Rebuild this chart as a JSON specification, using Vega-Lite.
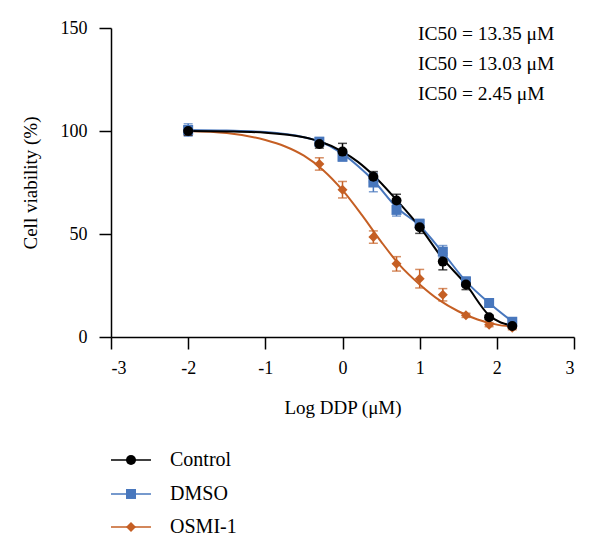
{
  "$schema": "https://vega.github.io/schema/vega-lite/v6.json",
  "width": 463,
  "height": 309,
  "autosize": {"type": "none"},
  "padding": {"left": 111, "top": 28, "right": 26, "bottom": 217},
  "background": "white",
  "config": {
    "view": {"stroke": null},
    "font": "Liberation Serif",
    "axis": {
      "grid": false,
      "domainColor": "#000000",
      "domainWidth": 1.5,
      "tickColor": "#000000",
      "tickWidth": 1.5,
      "tickSize": 12,
      "labelFont": "Liberation Serif",
      "labelFontSize": 18,
      "labelColor": "#000000",
      "titleFont": "Liberation Serif",
      "titleFontSize": 19,
      "titleFontWeight": "normal",
      "titleColor": "#000000"
    }
  },
  "datasets": {
    "fit": [
      {"group": "OSMI-1", "logDose": -2, "viability": 100},
      {"group": "OSMI-1", "logDose": -1.5, "viability": 99},
      {"group": "OSMI-1", "logDose": -1, "viability": 95.6},
      {"group": "OSMI-1", "logDose": -0.75, "viability": 92.6},
      {"group": "OSMI-1", "logDose": -0.5, "viability": 88},
      {"group": "OSMI-1", "logDose": -0.25, "viability": 81},
      {"group": "OSMI-1", "logDose": 0, "viability": 71.3},
      {"group": "OSMI-1", "logDose": 0.25, "viability": 59.3},
      {"group": "OSMI-1", "logDose": 0.5, "viability": 46.3},
      {"group": "OSMI-1", "logDose": 0.75, "viability": 34.5},
      {"group": "OSMI-1", "logDose": 1, "viability": 25.5},
      {"group": "OSMI-1", "logDose": 1.25, "viability": 18},
      {"group": "OSMI-1", "logDose": 1.5, "viability": 12.5},
      {"group": "OSMI-1", "logDose": 1.75, "viability": 8.5},
      {"group": "OSMI-1", "logDose": 2, "viability": 6},
      {"group": "OSMI-1", "logDose": 2.2, "viability": 5},
      {"group": "DMSO", "logDose": -2, "viability": 100.5},
      {"group": "DMSO", "logDose": -1.5, "viability": 100.2},
      {"group": "DMSO", "logDose": -1, "viability": 99.5},
      {"group": "DMSO", "logDose": -0.5, "viability": 97},
      {"group": "DMSO", "logDose": -0.3, "viability": 95},
      {"group": "DMSO", "logDose": 0, "viability": 89},
      {"group": "DMSO", "logDose": 0.2, "viability": 83},
      {"group": "DMSO", "logDose": 0.4, "viability": 76},
      {"group": "DMSO", "logDose": 0.7, "viability": 63},
      {"group": "DMSO", "logDose": 1, "viability": 54},
      {"group": "DMSO", "logDose": 1.3, "viability": 41},
      {"group": "DMSO", "logDose": 1.6, "viability": 27},
      {"group": "DMSO", "logDose": 1.9, "viability": 16.5},
      {"group": "DMSO", "logDose": 2.2, "viability": 7.5},
      {"group": "Control", "logDose": -2, "viability": 100},
      {"group": "Control", "logDose": -1.5, "viability": 99.8},
      {"group": "Control", "logDose": -1, "viability": 99.2},
      {"group": "Control", "logDose": -0.5, "viability": 97},
      {"group": "Control", "logDose": -0.3, "viability": 95},
      {"group": "Control", "logDose": 0, "viability": 90},
      {"group": "Control", "logDose": 0.2, "viability": 85},
      {"group": "Control", "logDose": 0.4, "viability": 78.5},
      {"group": "Control", "logDose": 0.7, "viability": 66.5},
      {"group": "Control", "logDose": 1, "viability": 53.5},
      {"group": "Control", "logDose": 1.3, "viability": 38},
      {"group": "Control", "logDose": 1.6, "viability": 25.5},
      {"group": "Control", "logDose": 1.9, "viability": 10.5},
      {"group": "Control", "logDose": 2.2, "viability": 5.5}
    ],
    "obs": [
      {"group": "OSMI-1", "logDose": -2, "viability": 100, "sd": 2},
      {"group": "OSMI-1", "logDose": -0.3, "viability": 84, "sd": 3},
      {"group": "OSMI-1", "logDose": 0, "viability": 71.5, "sd": 4},
      {"group": "OSMI-1", "logDose": 0.4, "viability": 48.5, "sd": 3},
      {"group": "OSMI-1", "logDose": 0.7, "viability": 35.5, "sd": 3.5},
      {"group": "OSMI-1", "logDose": 1, "viability": 28.3, "sd": 4.5},
      {"group": "OSMI-1", "logDose": 1.3, "viability": 20.5, "sd": 3},
      {"group": "OSMI-1", "logDose": 1.6, "viability": 10.5, "sd": 1},
      {"group": "OSMI-1", "logDose": 1.9, "viability": 6, "sd": 1},
      {"group": "OSMI-1", "logDose": 2.2, "viability": 4.5, "sd": 1},
      {"group": "DMSO", "logDose": -2, "viability": 100.5, "sd": 3},
      {"group": "DMSO", "logDose": -0.3, "viability": 94.8, "sd": 2},
      {"group": "DMSO", "logDose": 0, "viability": 87.5, "sd": 2},
      {"group": "DMSO", "logDose": 0.4, "viability": 75, "sd": 4.5},
      {"group": "DMSO", "logDose": 0.7, "viability": 61.7, "sd": 3},
      {"group": "DMSO", "logDose": 1, "viability": 55, "sd": 2},
      {"group": "DMSO", "logDose": 1.3, "viability": 41.4, "sd": 3},
      {"group": "DMSO", "logDose": 1.6, "viability": 27, "sd": 2},
      {"group": "DMSO", "logDose": 1.9, "viability": 16.5, "sd": 1.5},
      {"group": "DMSO", "logDose": 2.2, "viability": 7.4, "sd": 1},
      {"group": "Control", "logDose": -2, "viability": 100, "sd": 2},
      {"group": "Control", "logDose": -0.3, "viability": 93.7, "sd": 2},
      {"group": "Control", "logDose": 0, "viability": 90, "sd": 4},
      {"group": "Control", "logDose": 0.4, "viability": 77.8, "sd": 2.5},
      {"group": "Control", "logDose": 0.7, "viability": 66.3, "sd": 3},
      {"group": "Control", "logDose": 1, "viability": 53.3, "sd": 3},
      {"group": "Control", "logDose": 1.3, "viability": 36.6, "sd": 4},
      {"group": "Control", "logDose": 1.6, "viability": 25.5, "sd": 2.5},
      {"group": "Control", "logDose": 1.9, "viability": 9.6, "sd": 1},
      {"group": "Control", "logDose": 2.2, "viability": 5.3, "sd": 1}
    ]
  },
  "layer": [
    {
      "data": {"name": "fit"},
      "mark": {"type": "line", "interpolate": "monotone", "strokeWidth": 2},
      "encoding": {
        "x": {
          "field": "logDose",
          "type": "quantitative",
          "title": "Log DDP (μM)",
          "scale": {"domain": [-3, 3], "nice": false, "zero": false},
          "axis": {
            "values": [-3, -2, -1, 0, 1, 2, 3],
            "labelExpr": "'' + datum.value",
            "labelPadding": 10,
            "titlePadding": 21
          }
        },
        "y": {
          "field": "viability",
          "type": "quantitative",
          "title": "Cell viability (%)",
          "scale": {"domain": [0, 150], "nice": false},
          "axis": {
            "values": [0, 50, 100, 150],
            "labelPadding": 12,
            "titlePadding": 20
          }
        },
        "color": {
          "field": "group",
          "type": "nominal",
          "scale": {
            "domain": ["Control", "DMSO", "OSMI-1"],
            "range": ["#000000", "#4877BD", "#C55F24"]
          },
          "legend": null
        }
      }
    },
    {
      "data": {"name": "obs"},
      "mark": {"type": "errorbar", "ticks": {"size": 9}, "thickness": 1.5},
      "encoding": {
        "x": {"field": "logDose", "type": "quantitative", "title": "Log DDP (μM)"},
        "y": {"field": "viability", "type": "quantitative", "title": "Cell viability (%)"},
        "yError": {"field": "sd"},
        "color": {"field": "group", "type": "nominal", "legend": null}
      }
    },
    {
      "data": {"name": "obs"},
      "mark": {"type": "point", "filled": true, "opacity": 1, "size": 100},
      "encoding": {
        "x": {"field": "logDose", "type": "quantitative", "title": "Log DDP (μM)"},
        "y": {"field": "viability", "type": "quantitative", "title": "Cell viability (%)"},
        "shape": {
          "field": "group",
          "type": "nominal",
          "scale": {
            "domain": ["Control", "DMSO", "OSMI-1"],
            "range": ["circle", "square", "diamond"]
          },
          "legend": null
        },
        "color": {"field": "group", "type": "nominal", "legend": null}
      }
    },
    {
      "data": {"values": [{}]},
      "mark": {
        "type": "text",
        "align": "left",
        "baseline": "alphabetic",
        "lineHeight": 30,
        "font": "Liberation Serif",
        "fontSize": 19.5,
        "color": "#000000"
      },
      "encoding": {
        "x": {"datum": 0.98},
        "y": {"datum": 144.2},
        "text": {"value": ["IC50 = 13.35 μM", "IC50 = 13.03 μM", "IC50 = 2.45 μM"]}
      }
    },
    {
      "data": {"values": [{}]},
      "encoding": {"y": {"datum": -59.7}},
      "layer": [
        {
          "mark": {"type": "rule", "color": "#000000", "strokeWidth": 1.5},
          "encoding": {"x": {"datum": -3}, "x2": {"datum": -2.482}}
        },
        {
          "mark": {"type": "point", "shape": "circle", "filled": true, "opacity": 1, "size": 100, "color": "#000000"},
          "encoding": {"x": {"datum": -2.741}}
        },
        {
          "mark": {"type": "text", "align": "left", "baseline": "middle", "font": "Liberation Serif", "fontSize": 20, "color": "#000000"},
          "encoding": {"x": {"datum": -2.235}, "text": {"value": "Control"}}
        }
      ]
    },
    {
      "data": {"values": [{}]},
      "encoding": {"y": {"datum": -76.2}},
      "layer": [
        {
          "mark": {"type": "rule", "color": "#4877BD", "strokeWidth": 1.5},
          "encoding": {"x": {"datum": -3}, "x2": {"datum": -2.482}}
        },
        {
          "mark": {"type": "point", "shape": "square", "filled": true, "opacity": 1, "size": 100, "color": "#4877BD"},
          "encoding": {"x": {"datum": -2.741}}
        },
        {
          "mark": {"type": "text", "align": "left", "baseline": "middle", "font": "Liberation Serif", "fontSize": 20, "color": "#000000"},
          "encoding": {"x": {"datum": -2.235}, "text": {"value": "DMSO"}}
        }
      ]
    },
    {
      "data": {"values": [{}]},
      "encoding": {"y": {"datum": -92.2}},
      "layer": [
        {
          "mark": {"type": "rule", "color": "#C55F24", "strokeWidth": 1.5},
          "encoding": {"x": {"datum": -3}, "x2": {"datum": -2.482}}
        },
        {
          "mark": {"type": "point", "shape": "diamond", "filled": true, "opacity": 1, "size": 100, "color": "#C55F24"},
          "encoding": {"x": {"datum": -2.741}}
        },
        {
          "mark": {"type": "text", "align": "left", "baseline": "middle", "font": "Liberation Serif", "fontSize": 20, "color": "#000000"},
          "encoding": {"x": {"datum": -2.235}, "text": {"value": "OSMI-1"}}
        }
      ]
    }
  ]
}
